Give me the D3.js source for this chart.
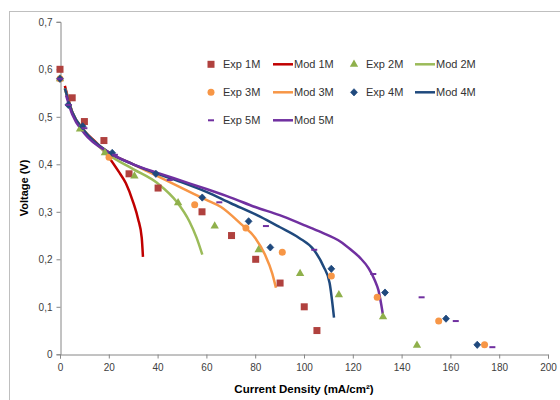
<!DOCTYPE html>
<html><head><meta charset="utf-8">
<script src="https://cdnjs.cloudflare.com/ajax/libs/d3/7.8.5/d3.min.js"></script>
<style>body{margin:0;background:#fff;} svg{display:block;font-family:"Liberation Sans",Arial,sans-serif;}</style>
</head><body><svg id="c" width="560" height="400"></svg>
<script>
// Experimental data (current density mA/cm², voltage V)
const exp1X = [0, 5, 10, 18, 28.3, 40.2, 58.2, 70.3, 80.2, 90.2, 100.1, 105.3];
const exp1Y = [0.60, 0.54, 0.49, 0.45, 0.38, 0.35, 0.30, 0.25, 0.20, 0.15, 0.10, 0.05];
const exp2X = [0, 8.2, 18.4, 30.5, 48.4, 63.4, 81.4, 98.4, 114.3, 132.4, 146.3];
const exp2Y = [0.58, 0.474, 0.424, 0.375, 0.319, 0.27, 0.22, 0.17, 0.125, 0.079, 0.019];
const exp3X = [0, 20.1, 55.2, 76.2, 91.1, 111.2, 130, 155.2, 174];
const exp3Y = [0.58, 0.415, 0.315, 0.266, 0.215, 0.165, 0.12, 0.07, 0.02];
const exp4X = [0, 3.4, 9.3, 21.4, 39.3, 58.3, 77.3, 86.2, 111.2, 133.2, 158.2, 171];
const exp4Y = [0.58, 0.525, 0.48, 0.424, 0.38, 0.33, 0.28, 0.225, 0.18, 0.13, 0.075, 0.02];
const exp5X = [0, 3.5, 10, 22.5, 45, 65.3, 84.4, 104.2, 128.4, 148.2, 162.2, 177.2];
const exp5Y = [0.58, 0.525, 0.476, 0.42, 0.367, 0.32, 0.27, 0.22, 0.169, 0.12, 0.07, 0.015];
// Model curves
const mod1X = [2, 5, 10, 15, 20, 24, 27, 30, 32, 33.5, 34];
const mod1Y = [0.565, 0.51, 0.47, 0.445, 0.415, 0.385, 0.36, 0.32, 0.285, 0.245, 0.205];
const mod2X = [2, 5, 10, 20, 30, 40, 48, 53, 56, 58.3];
const mod2Y = [0.56, 0.51, 0.47, 0.42, 0.39, 0.36, 0.32, 0.28, 0.245, 0.21];
const mod3X = [2, 5, 10, 20, 30, 40, 50, 60, 66, 74, 80, 84, 87, 88.5];
const mod3Y = [0.56, 0.51, 0.47, 0.425, 0.40, 0.375, 0.35, 0.325, 0.31, 0.275, 0.245, 0.21, 0.17, 0.14];
const mod4X = [2, 5, 10, 20, 30, 40, 50, 60, 70, 82, 90, 98, 104, 108, 110.5, 112.3];
const mod4Y = [0.56, 0.51, 0.47, 0.425, 0.40, 0.38, 0.362, 0.342, 0.318, 0.29, 0.268, 0.245, 0.22, 0.185, 0.15, 0.077];
const mod5X = [2.5, 5, 10, 20, 30, 40, 50, 60, 70, 80, 90, 100, 107, 115, 119, 123, 126.5, 129, 130.5, 132.3];
const mod5Y = [0.545, 0.505, 0.465, 0.425, 0.40, 0.382, 0.365, 0.348, 0.33, 0.31, 0.293, 0.272, 0.257, 0.237, 0.221, 0.203, 0.181, 0.156, 0.135, 0.085];
const xTicks = [0, 20, 40, 60, 80, 100, 120, 140, 160, 180, 200];
const yTicks = [0, 0.1, 0.2, 0.3, 0.4, 0.5, 0.6, 0.7];
const legendLabels = ["Exp 1M", "Mod 1M", "Exp 2M", "Mod 2M", "Exp 3M", "Mod 3M", "Exp 4M", "Mod 4M", "Exp 5M", "Mod 5M"];

const svg = d3.select("#c");
svg.append("rect").attr("x", 9.5).attr("y", 11.5).attr("width", 600).attr("height", 420)
  .attr("fill", "none").attr("stroke", "#bfbfbf");

const x = d3.scaleLinear().domain([0, 200]).range([60, 548]);
const y = d3.scaleLinear().domain([0, 0.7]).range([354.3, 21.8]);

const fmt = d => (d === 0 ? "0" : d3.format(".1f")(d).replace(".", ","));
const gy = svg.append("g").attr("transform", "translate(60.5,0)")
  .call(d3.axisLeft(y).tickValues(yTicks).tickSize(4).tickPadding(4).tickFormat(fmt));
const gx = svg.append("g").attr("transform", "translate(0,354.5)")
  .call(d3.axisBottom(x).tickValues(xTicks).tickSize(4).tickPadding(5));
[gx, gy].forEach(g => {
  g.selectAll("path,line").attr("stroke", "#868686");
  g.selectAll("text").attr("fill", "#404040").style("font-size", "10px").style("font-family", "'Liberation Sans',Arial,sans-serif");
});

svg.append("text").attr("x", 304).attr("y", 393).attr("text-anchor", "middle")
  .style("font-size", "11.5px").style("font-weight", "bold").attr("fill", "#000")
  .text("Current Density (mA/cm²)");
svg.append("text").attr("transform", "translate(28,188) rotate(-90)").attr("text-anchor", "middle")
  .style("font-size", "11px").style("font-weight", "bold").attr("fill", "#000")
  .text("Voltage (V)");

const colors = {
  exp1: "#B0413E", mod1: "#C00000", exp2: "#8FB04B", mod2: "#9BBB59",
  exp3: "#F79646", mod3: "#F79646", exp4: "#1F497D", mod4: "#1F497D",
  exp5: "#7030A0", mod5: "#7030A0"
};

const line = d3.line().x(d => x(d[0])).y(d => y(d[1])).curve(d3.curveMonotoneX);
const mods = [[mod1X, mod1Y, colors.mod1], [mod2X, mod2Y, colors.mod2], [mod3X, mod3Y, colors.mod3], [mod4X, mod4Y, colors.mod4], [mod5X, mod5Y, colors.mod5]];
mods.forEach(([xs, ys, c]) => {
  svg.append("path").datum(xs.map((v, i) => [v, ys[i]]))
    .attr("fill", "none").attr("stroke", c).attr("stroke-width", 2.5).attr("d", line);
});

function marker(g, type, c) {
  if (type === "square") g.append("rect").attr("x", -3.5).attr("y", -3.5).attr("width", 7).attr("height", 7).attr("fill", c);
  else if (type === "triangle") g.append("path").attr("d", d3.symbol(d3.symbolTriangle, 30)()).attr("fill", c);
  else if (type === "circle") g.append("circle").attr("r", 3.5).attr("fill", c);
  else if (type === "diamond") g.append("path").attr("d", "M0,-3.6L3.4,0L0,3.6L-3.4,0Z").attr("fill", c)
      .attr("stroke", c).attr("stroke-width", 0.8).attr("stroke-linejoin", "round");
  else if (type === "dash") g.append("rect").attr("x", -3).attr("y", -1).attr("width", 6).attr("height", 2).attr("fill", c);
}
const exps = [[exp1X, exp1Y, "square", colors.exp1], [exp2X, exp2Y, "triangle", colors.exp2], [exp3X, exp3Y, "circle", colors.exp3], [exp4X, exp4Y, "diamond", colors.exp4], [exp5X, exp5Y, "dash", colors.exp5]];
exps.forEach(([xs, ys, t, c]) => {
  xs.forEach((v, i) => {
    const g = svg.append("g").attr("transform", `translate(${x(v)},${y(ys[i])})`);
    marker(g, t, c);
  });
});

// Legend
const legendItems = [
  {l: legendLabels[0], t: "square", c: colors.exp1, col: 0, row: 0},
  {l: legendLabels[1], t: "line", c: colors.mod1, col: 1, row: 0},
  {l: legendLabels[2], t: "triangle", c: colors.exp2, col: 2, row: 0},
  {l: legendLabels[3], t: "line", c: colors.mod2, col: 3, row: 0},
  {l: legendLabels[4], t: "circle", c: colors.exp3, col: 0, row: 1},
  {l: legendLabels[5], t: "line", c: colors.mod3, col: 1, row: 1},
  {l: legendLabels[6], t: "diamond", c: colors.exp4, col: 2, row: 1},
  {l: legendLabels[7], t: "line", c: colors.mod4, col: 3, row: 1},
  {l: legendLabels[8], t: "dash", c: colors.exp5, col: 0, row: 2},
  {l: legendLabels[9], t: "line", c: colors.mod5, col: 1, row: 2}
];
const colX = [211, 273, 354, 415];
legendItems.forEach(it => {
  const cx = colX[it.col], cy = 64.3 + it.row * 28;
  const g = svg.append("g");
  if (it.t === "line") {
    g.append("line").attr("x1", cx).attr("x2", cx + 20).attr("y1", cy).attr("y2", cy).attr("stroke", it.c).attr("stroke-width", 2.5);
    g.append("text").attr("x", cx + 21).attr("y", cy + 3.8).text(it.l);
  } else {
    const m = g.append("g").attr("transform", `translate(${cx},${cy})`);
    marker(m, it.t, it.c);
    g.append("text").attr("x", cx + 12).attr("y", cy + 3.8).text(it.l);
  }
  g.select("text").style("font-size", "11px").attr("fill", "#333");
});
</script></body></html>
